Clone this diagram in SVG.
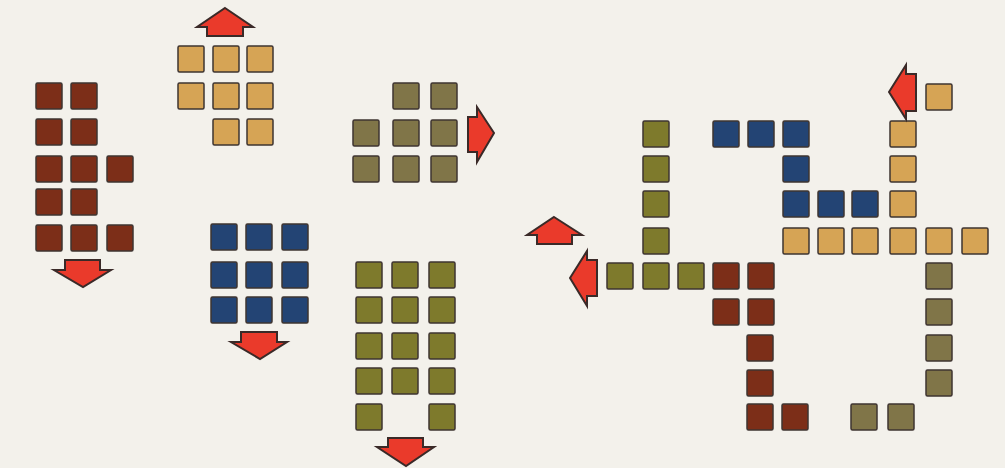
<svg xmlns="http://www.w3.org/2000/svg" width="1005" height="468" viewBox="0 0 1005 468">
<style>
rect.t{width:26px;height:26px;stroke:#3e3430;stroke-width:1.5;rx:1.5px}
.br{fill:#7c2e18}
.tn{fill:#d6a455}
.bl{fill:#234474}
.og{fill:#807548}
.oy{fill:#7e7a2c}
.ar{fill:#ea3a2b;stroke:#3a2a28;stroke-width:2;stroke-linejoin:miter}
</style>
<rect width="1005" height="468" fill="#f3f1eb"/>
<g id="brown-group">
<rect class="t br" x="36" y="83"/><rect class="t br" x="71" y="83"/>
<rect class="t br" x="36" y="119"/><rect class="t br" x="71" y="119"/>
<rect class="t br" x="36" y="156"/><rect class="t br" x="71" y="156"/><rect class="t br" x="107" y="156"/>
<rect class="t br" x="36" y="189"/><rect class="t br" x="71" y="189"/>
<rect class="t br" x="36" y="225"/><rect class="t br" x="71" y="225"/><rect class="t br" x="107" y="225"/>
</g>
<g id="tan-group">
<rect class="t tn" x="178" y="46"/><rect class="t tn" x="213" y="46"/><rect class="t tn" x="247" y="46"/>
<rect class="t tn" x="178" y="83"/><rect class="t tn" x="213" y="83"/><rect class="t tn" x="247" y="83"/>
<rect class="t tn" x="213" y="119"/><rect class="t tn" x="247" y="119"/>
</g>
<g id="blue-group">
<rect class="t bl" x="211" y="224"/><rect class="t bl" x="246" y="224"/><rect class="t bl" x="282" y="224"/>
<rect class="t bl" x="211" y="262"/><rect class="t bl" x="246" y="262"/><rect class="t bl" x="282" y="262"/>
<rect class="t bl" x="211" y="297"/><rect class="t bl" x="246" y="297"/><rect class="t bl" x="282" y="297"/>
</g>
<g id="olive-group">
<rect class="t og" x="393" y="83"/><rect class="t og" x="431" y="83"/>
<rect class="t og" x="353" y="120"/><rect class="t og" x="393" y="120"/><rect class="t og" x="431" y="120"/>
<rect class="t og" x="353" y="156"/><rect class="t og" x="393" y="156"/><rect class="t og" x="431" y="156"/>
</g>
<g id="yellow-olive-group">
<rect class="t oy" x="356" y="262"/><rect class="t oy" x="392" y="262"/><rect class="t oy" x="429" y="262"/>
<rect class="t oy" x="356" y="297"/><rect class="t oy" x="392" y="297"/><rect class="t oy" x="429" y="297"/>
<rect class="t oy" x="356" y="333"/><rect class="t oy" x="392" y="333"/><rect class="t oy" x="429" y="333"/>
<rect class="t oy" x="356" y="368"/><rect class="t oy" x="392" y="368"/><rect class="t oy" x="429" y="368"/>
<rect class="t oy" x="356" y="404"/><rect class="t oy" x="429" y="404"/>
</g>
<g id="complex">
<rect class="t oy" x="643" y="121"/><rect class="t oy" x="643" y="156"/><rect class="t oy" x="643" y="191"/><rect class="t oy" x="643" y="228"/>
<rect class="t oy" x="607" y="263"/><rect class="t oy" x="643" y="263"/><rect class="t oy" x="678" y="263"/>
<rect class="t br" x="713" y="263"/><rect class="t br" x="748" y="263"/>
<rect class="t br" x="713" y="299"/><rect class="t br" x="748" y="299"/>
<rect class="t br" x="747" y="335"/><rect class="t br" x="747" y="370"/><rect class="t br" x="747" y="404"/><rect class="t br" x="782" y="404"/>
<rect class="t bl" x="713" y="121"/><rect class="t bl" x="748" y="121"/><rect class="t bl" x="783" y="121"/>
<rect class="t bl" x="783" y="156"/>
<rect class="t bl" x="783" y="191"/><rect class="t bl" x="818" y="191"/><rect class="t bl" x="852" y="191"/>
<rect class="t tn" x="890" y="121"/><rect class="t tn" x="890" y="156"/><rect class="t tn" x="890" y="191"/>
<rect class="t tn" x="783" y="228"/><rect class="t tn" x="818" y="228"/><rect class="t tn" x="852" y="228"/><rect class="t tn" x="890" y="228"/><rect class="t tn" x="926" y="228"/><rect class="t tn" x="962" y="228"/>
<rect class="t tn" x="926" y="84"/>
<rect class="t og" x="926" y="263"/><rect class="t og" x="926" y="299"/><rect class="t og" x="926" y="335"/><rect class="t og" x="926" y="370"/>
<rect class="t og" x="851" y="404"/><rect class="t og" x="888" y="404"/>
</g>
<g id="arrows">
<polygon class="ar" points="65,260 100,260 100,270 111,270 83,287 54,270 65,270"/>
<polygon class="ar" points="225,8 253,27 243,27 243,36 207,36 207,27 197,27"/>
<polygon class="ar" points="241,332 277,332 277,342 287,342 260,359 231,342 241,342"/>
<polygon class="ar" points="468,117 477,117 477,107 494,133 477,162 477,152 468,152"/>
<polygon class="ar" points="388,438 423,438 423,447 434,447 406,466 377,447 388,447"/>
<polygon class="ar" points="554,217 582,235 572,235 572,244 537,244 537,235 527,235"/>
<polygon class="ar" points="570,278 587,251 587,260 597,260 597,296 587,296 587,306"/>
<polygon class="ar" points="889,92 906,65 906,74 916,74 916,111 906,111 906,119"/>
</g>
</svg>
